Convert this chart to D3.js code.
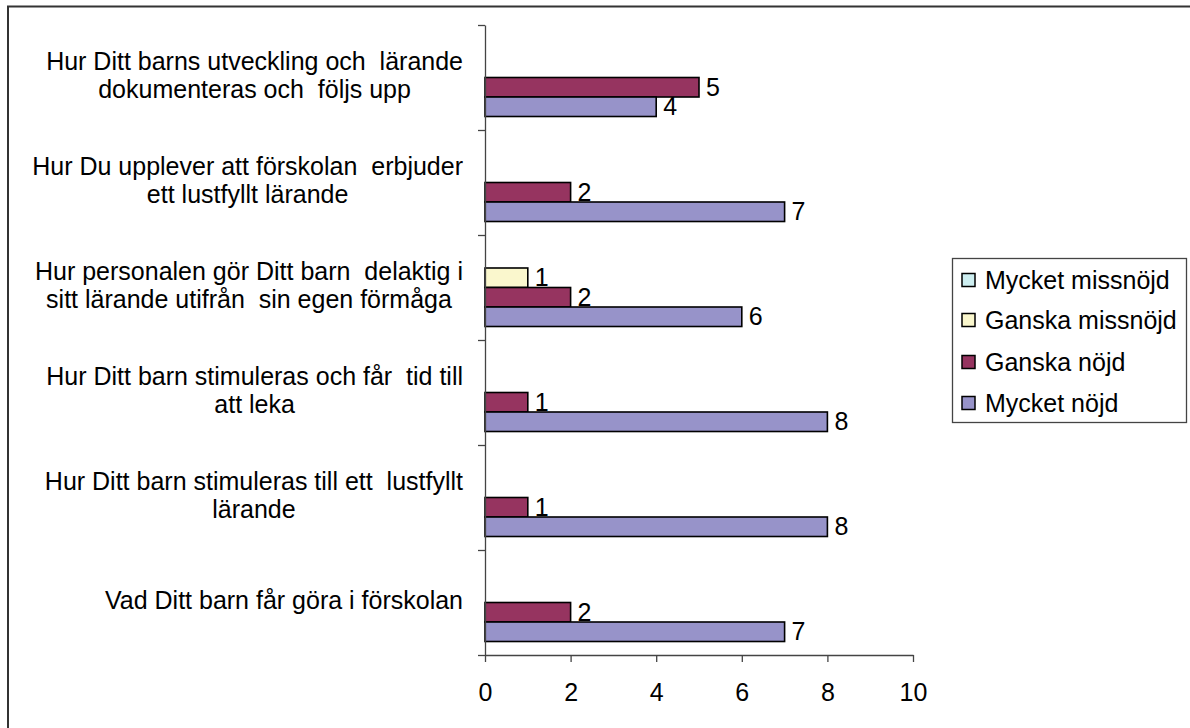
<!DOCTYPE html>
<html>
<head>
<meta charset="utf-8">
<script src="https://cdn.jsdelivr.net/npm/d3@7"></script>
<style>
  html, body { margin: 0; padding: 0; background: #fff; }
  svg { display: block; font-family: "Liberation Sans", Arial, sans-serif; }
</style>
</head>
<body>
<svg id="chart" width="1190" height="728"></svg>
<script>
// ---- data ----
const categories = [
  ["Hur Ditt barns utveckling och  lärande", "dokumenteras och  följs upp"],
  ["Hur Du upplever att förskolan  erbjuder", "ett lustfyllt lärande"],
  ["Hur personalen gör Ditt barn  delaktig i", "sitt lärande utifrån  sin egen förmåga"],
  ["Hur Ditt barn stimuleras och får  tid till", "att leka"],
  ["Hur Ditt barn stimuleras till ett  lustfyllt", "lärande"],
  ["Vad Ditt barn får göra i förskolan"]
];
const seriesNames = ["Mycket missnöjd", "Ganska missnöjd", "Ganska nöjd", "Mycket nöjd"];
const mycketMissnojd = [0, 0, 0, 0, 0, 0];
const ganskaMissnojd = [0, 0, 1, 0, 0, 0];
const ganskaNojd     = [5, 2, 2, 1, 1, 2];
const mycketNojd     = [4, 7, 6, 8, 8, 7];
const seriesColors = ["#cdeef0", "#faf7cd", "#963460", "#9793c9"];
const xTicks = [0, 2, 4, 6, 8, 10];

const seriesValues = [mycketMissnojd, ganskaMissnojd, ganskaNojd, mycketNojd];

const svg = d3.select("#chart");
const FS = 25;

// outer border
svg.append("rect")
  .attr("x", 8).attr("y", 6.5)
  .attr("width", 1200).attr("height", 760)
  .attr("fill", "none").attr("stroke", "#333").attr("stroke-width", 2);

const plot = { left: 485, right: 913, top: 25, bottom: 655 };

const x = d3.scaleLinear().domain([0, 10]).range([plot.left, plot.right]);
const catIdx = d3.range(categories.length);
const y = d3.scaleBand().domain(catIdx).range([plot.top, plot.bottom]).paddingInner(0).paddingOuter(0);
const ys = d3.scaleBand().domain(seriesNames).range([0, y.bandwidth()]).paddingInner(0).paddingOuter(0.692);

// bars
const barG = svg.append("g");
seriesNames.forEach((name, si) => {
  const vals = seriesValues[si];
  const g = barG.append("g");
  g.selectAll("rect").data(catIdx.filter(i => vals[i] > 0)).join("rect")
    .attr("x", x(0))
    .attr("y", i => y(i) + ys(name))
    .attr("width", i => x(vals[i]) - x(0))
    .attr("height", ys.bandwidth())
    .attr("fill", seriesColors[si])
    .attr("stroke", "#000").attr("stroke-width", 1.6);
  g.selectAll("text").data(catIdx.filter(i => vals[i] > 0)).join("text")
    .attr("x", i => x(vals[i]) + 7)
    .attr("y", i => y(i) + ys(name) + ys.bandwidth() / 2)
    .attr("dy", "0.34em")
    .attr("font-size", FS)
    .attr("fill", "#000")
    .text(i => vals[i]);
});

// y axis (category boundaries)
const yb = d3.scaleLinear().domain([0, categories.length]).range([plot.top, plot.bottom]);
svg.append("g")
  .attr("transform", `translate(${plot.left},0)`)
  .call(d3.axisLeft(yb).tickValues(d3.range(categories.length + 1)).tickSize(7).tickSizeOuter(0).tickFormat(""))
  .call(g => g.selectAll("line, path").attr("stroke", "#444").attr("stroke-width", 1.3));

// x axis
svg.append("g")
  .attr("transform", `translate(0,${plot.bottom})`)
  .call(d3.axisBottom(x).tickValues(xTicks).tickSize(7).tickSizeOuter(0).tickPadding(21))
  .call(g => g.selectAll("line, path").attr("stroke", "#444").attr("stroke-width", 1.3))
  .call(g => g.selectAll("text").attr("font-size", FS).attr("fill", "#000").attr("font-family", "Liberation Sans, Arial, sans-serif"));

// category labels
const labRight = 463;
const lineH = 28;
catIdx.forEach(i => {
  const lines = categories[i];
  const g = svg.append("g");
  const texts = lines.map(l => g.append("text")
    .attr("font-size", FS).attr("fill", "#000")
    .style("white-space", "pre")
    .attr("text-anchor", "middle")
    .text(l));
  const widths = texts.map(t => t.node().getComputedTextLength());
  const maxW = d3.max(widths);
  const cx = labRight - maxW / 2;
  const cy = y(i) + y.bandwidth() / 2 - 3;
  const n = lines.length;
  texts.forEach((t, k) => {
    t.attr("x", cx).attr("y", cy + (k - (n - 1) / 2) * lineH).attr("dy", "0.36em");
  });
});

// legend
const lg = svg.append("g");
lg.append("rect")
  .attr("x", 952.5).attr("y", 258.5).attr("width", 234).attr("height", 164)
  .attr("fill", "#fff").attr("stroke", "#444").attr("stroke-width", 1.3);
const legRows = [280, 320, 362, 403];
seriesNames.forEach((name, si) => {
  lg.append("rect")
    .attr("x", 962).attr("y", legRows[si] - 6.5).attr("width", 13).attr("height", 13)
    .attr("fill", seriesColors[si]).attr("stroke", "#000").attr("stroke-width", 1.5);
  lg.append("text")
    .attr("x", 985).attr("y", legRows[si]).attr("dy", "0.36em")
    .attr("font-size", FS).attr("fill", "#000")
    .text(name);
});
</script>
</body>
</html>
